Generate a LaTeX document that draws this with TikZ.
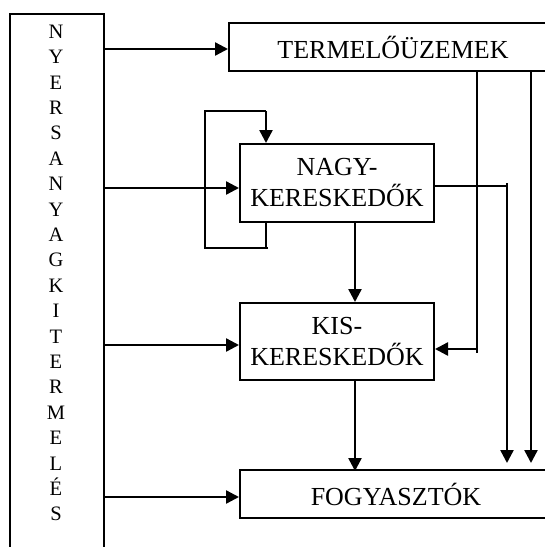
\documentclass[tikz,border=0pt]{standalone}
\usepackage{fontspec}
\setmainfont{Liberation Serif}
\usetikzlibrary{arrows.meta}
\begin{document}
\begin{tikzpicture}[x=1pt,y=-1pt,
  box/.style={draw,line width=2pt,inner sep=0pt,align=center,font=\fontsize{26}{31}\selectfont},
  arr/.style={line width=2.4pt,-{Triangle[length=13pt,width=13pt]}},
  thinline/.style={line width=2pt}]
\useasboundingbox (0,0) rectangle (545,547);
\clip (0,0) rectangle (545,547);
\fill[white] (0,0) rectangle (545,547);
% source column (open at the bottom)
\node[box,minimum width=94pt,minimum height=560pt,anchor=north west] (src) at (9,13) {};
\node[align=center,font=\fontsize{20.5}{25.4}\selectfont] (srctext) at (56,273)
  {N\\Y\\E\\R\\S\\A\\N\\Y\\A\\G\\K\\I\\T\\E\\R\\M\\E\\L\\É\\S};
% boxes
\node[box,minimum width=332pt,minimum height=48pt,anchor=north west] (term) at (228,22) {TERMELŐÜZEMEK\hspace*{4pt}};
\node[box,minimum width=194pt,minimum height=78pt,anchor=north west] (nagy) at (239,143) {NAGY-\\KERESKEDŐK};
\node[box,minimum width=194pt,minimum height=77pt,anchor=north west] (kis) at (239,302) {KIS-\\KERESKEDŐK};
\node[box,minimum width=321pt,minimum height=48pt,anchor=north west] (fogy) at (239,469) {FOGYASZTÓK\hspace*{9pt}};
% arrows from source
\draw[arr] (src.east |- 0,49) -- (term.west |- 0,49);
\draw[arr] (src.east |- 0,188) -- (nagy.west |- 0,188);
\draw[arr] (src.east |- 0,345) -- (kis.west |- 0,345);
\draw[arr] (src.east |- 0,497) -- (fogy.west |- 0,497);
% self loop of nagykereskedők
\draw[thinline] (nagy.south -| 266,0) -- (266,248);
\draw[thinline] (268,248) -- (205,248) -- (205,111) -- (266,111);
\draw[arr] (266,111) -- (nagy.north -| 266,0);
% chain
\draw[arr] (nagy.south -| 355,0) -- (kis.north -| 355,0);
\draw[arr] (kis.south -| 355,0) -- ([yshift=-2pt]fogy.north -| 355,0);
% nagy to fogyasztók
\draw[thinline] (nagy.east |- 0,186) -- (507,186);
\draw[arr] (507,183) -- ([yshift=6pt]fogy.north -| 507,0);
% termelőüzemek to fogyasztók
\draw[arr] (term.south -| 531,0) -- ([yshift=6pt]fogy.north -| 531,0);
% termelőüzemek to kiskereskedők
\draw[thinline] (term.south -| 477,0) -- (477,353);
\draw[arr] (477,349) -- (kis.east |- 0,349);
\end{tikzpicture}
\end{document}
